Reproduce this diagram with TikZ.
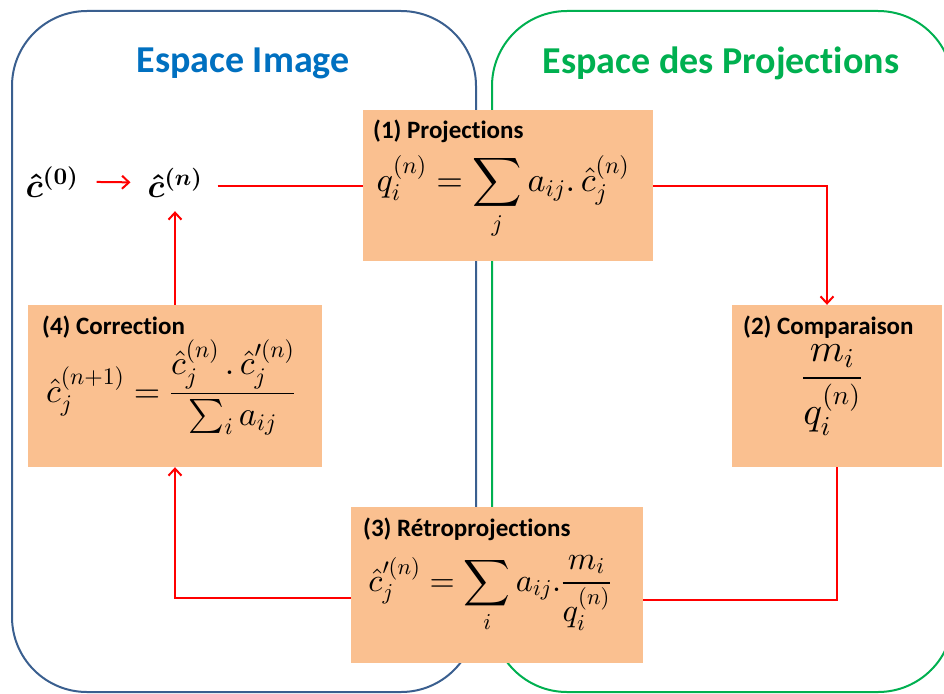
\documentclass[tikz,border=0pt]{standalone}
\usepackage{amsmath,amssymb}
\DeclareFontFamily{OT1}{cmr}{\hyphenchar\font45 }
\DeclareFontShape{OT1}{cmr}{m}{n}{<->cmr10}{}
\DeclareFontShape{OT1}{cmr}{bx}{n}{<->cmbx10}{}
\DeclareFontFamily{OML}{cmm}{\skewchar\font127 }
\DeclareFontShape{OML}{cmm}{m}{it}{<->cmmi10}{}
\DeclareFontShape{OML}{cmm}{b}{it}{<->cmmib10}{}
\DeclareFontFamily{OMS}{cmsy}{\skewchar\font48 }
\DeclareFontShape{OMS}{cmsy}{m}{n}{<->cmsy10}{}
\DeclareFontShape{OMS}{cmsy}{b}{n}{<->cmbsy10}{}
\DeclareFontFamily{OMX}{cmex}{}
\DeclareFontShape{OMX}{cmex}{m}{n}{<->cmex10}{}
\usepackage[no-math]{fontspec}
\setmainfont{Carlito}[Ligatures=NoCommon]
\usetikzlibrary{arrows.meta,calc}
\definecolor{boxfill}{HTML}{FAC090}
\definecolor{imgblue}{HTML}{3A5F8F}
\definecolor{imgtitle}{HTML}{0070C0}
\definecolor{projgreen}{HTML}{00B050}
\definecolor{linkred}{HTML}{FF0000}
\tikzset{
  stepbox/.style={fill=boxfill, draw=none, inner sep=0pt},
  steplabel/.style={anchor=west, inner sep=0pt, font=\fontsize{25}{28}\selectfont\bfseries},
  formula/.style={inner sep=0pt, anchor=base, font=\fontsize{29}{34}\selectfont},
  smallformula/.style={inner sep=0pt, anchor=base, font=\fontsize{27}{32}\selectfont},
  fracformula/.style={inner sep=0pt, anchor=base, font=\fontsize{30}{35}\selectfont},
  estimate/.style={inner sep=0pt, anchor=base, font=\fontsize{30}{35}\selectfont\boldmath},
  region/.style={line width=2pt, rounded corners=75pt},
  link/.style={linkred, line width=2pt},
  linkarrow/.style={link, -{Straight Barb[length=7pt,width=13pt,line width=2pt]}},
  title/.style={font=\fontsize{38}{44}\selectfont\bfseries, inner sep=0pt}
}
\begin{document}
\begin{tikzpicture}[x=1pt,y=-1pt]
\useasboundingbox (0,0) rectangle (944,693);
% regions
\draw[region, imgblue] (12,11) rectangle (476,692);
\draw[region, projgreen] (492,11) rectangle (953,692);
\node[title, text=imgtitle] (t1) at (243,63) {Espace Image};
\node[title, text=projgreen] (t2) at (721,63) {Espace des Projections};
% boxes
\node[stepbox, minimum width=290pt, minimum height=151pt] (b1) at (508,185.5) {};
\node[stepbox, minimum width=210pt, minimum height=162pt] (b2) at (837,386) {};
\node[stepbox, minimum width=294pt, minimum height=162pt] (b4) at (175,386) {};
\node[stepbox, minimum width=292pt, minimum height=156pt] (b3) at (497,585) {};
% labels
\node[steplabel] (l1) at (373,131) {(1) Projections};
\node[steplabel] (l2) at (743,327) {(2) Comparaison};
\node[steplabel] (l4) at (42,327) {(4) Correction};
\node[steplabel] (l3) at (363,529) {(3) Rétroprojections};
% formulas
\node[formula] (f1) at (503,191) {\scalebox{1.18}{$\displaystyle q_i^{(n)} = \sum_j a_{ij}.\,\hat{c}_j^{(n)}$}};
\node[fracformula] (f2) at (832,388) {\scalebox{1.3}{$\displaystyle \frac{m_i}{q_i^{(n)}}$}};
\node[formula] (f4) at (171,402) {\scalebox{1.17}{$\displaystyle \hat{c}_j^{(n+1)} = \frac{\hat{c}_j^{(n)}\,.\,\hat{c}^{\prime(n)}_j}{\sum_i a_{ij}}$}};
\node[smallformula] (f3) at (490,591) {\scalebox{1.2}{$\displaystyle \hat{c}^{\prime(n)}_j = \sum_i a_{ij}.\frac{m_i}{q_i^{(n)}}$}};
% estimates
\node[estimate] (c0) at (52,197) {\scalebox{1.13}{$\hat{c}^{(0)}$}};
\node[estimate] (cn) at (175,197) {\scalebox{1.1}{$\hat{c}^{(n)}$}};
% connectors
\draw[linkarrow] ([xshift=18pt]c0.east) -- ([xshift=-17pt]cn.west);
\draw[link] ([xshift=15pt]cn.east |- b1.west) -- (b1.west);
\draw[linkarrow] (b1.east) -| ([xshift=-10pt]b2.north);
\draw[link] (b2.south) |- ([yshift=-15pt]b3.east);
\draw[linkarrow] ([yshift=-13pt]b3.west) -| (b4.south);
\draw[linkarrow] (b4.north) -- ($(b4.north |- cn.south)+(0,14)$);
\end{tikzpicture}
\end{document}
